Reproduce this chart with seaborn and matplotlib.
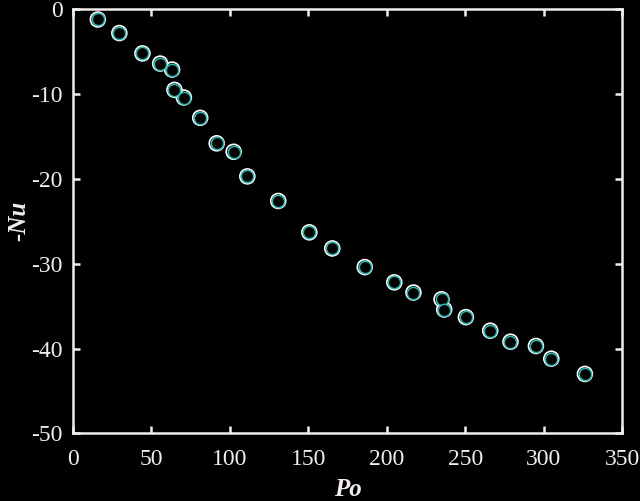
import numpy as np
import pandas as pd
import matplotlib
matplotlib.use("Agg")
import matplotlib.pyplot as plt
import seaborn as sns

# values
po = [16.0, 29.7, 44.4, 55.7, 63.3, 64.8, 70.8, 81.2, 91.7, 102.5,
      111.2, 130.9, 150.7, 165.3, 186.0, 204.8, 217.0, 234.9, 236.6, 250.4,
      265.9, 278.8, 295.0, 304.8, 326.2]
nu = [-1.2, -2.8, -5.2, -6.4, -7.1, -9.5, -10.4, -12.8, -15.8, -16.8,
      -19.7, -22.6, -26.3, -28.2, -30.4, -32.2, -33.4, -34.2, -35.4, -36.3,
      -37.9, -39.2, -39.7, -41.2, -43.0]
xticks = [0, 50, 100, 150, 200, 250, 300, 350]
yticks = [0, -10, -20, -30, -40, -50]

df = pd.DataFrame({'Po': po, 'Nu': nu})

sns.set_style('dark')
fg = '#f2ecec'
plt.rcParams['font.family'] = ['Liberation Serif', 'DejaVu Serif']
plt.rcParams['figure.facecolor'] = 'black'
plt.rcParams['axes.facecolor'] = 'black'

fig = plt.figure(figsize=(6.4, 5.01), dpi=100)
ax = fig.add_axes([0.1136, 0.1351, 0.9723 - 0.1136, 0.9814 - 0.1351])

# white outer ring, teal inner ring
sns.scatterplot(data=df, x='Po', y='Nu', ax=ax, s=115, facecolor='none',
                edgecolor='white', linewidth=1.2, zorder=3)
sns.scatterplot(data=df, x='Po', y='Nu', ax=ax, s=78, facecolor='black',
                edgecolor='#2fb8b0', linewidth=1.1, zorder=4)

ax.set_xlim(0, 350)
ax.set_ylim(-50, 0)
ax.set_xticks(xticks)
ax.set_yticks(yticks)
ax.set_xticklabels([str(t) for t in xticks])
ax.set_yticklabels([str(t) for t in yticks])
ax.grid(False)
for sp in ax.spines.values():
    sp.set_visible(True)
    sp.set_color(fg)
    sp.set_linewidth(1.8)
ax.tick_params(direction='in', length=5, width=1.8, color=fg, labelcolor=fg,
               labelsize=17, top=True, right=True, bottom=True, left=True)
ax.tick_params(axis='x', pad=11)
ax.tick_params(axis='y', pad=7)
ax.set_xlabel('Po', fontsize=18, fontweight='bold', fontstyle='italic', color=fg, labelpad=6)
ax.set_ylabel('-Nu', fontsize=18, fontweight='bold', fontstyle='italic', color=fg, labelpad=1)

fig.savefig('out.png', dpi=100, facecolor='black')
